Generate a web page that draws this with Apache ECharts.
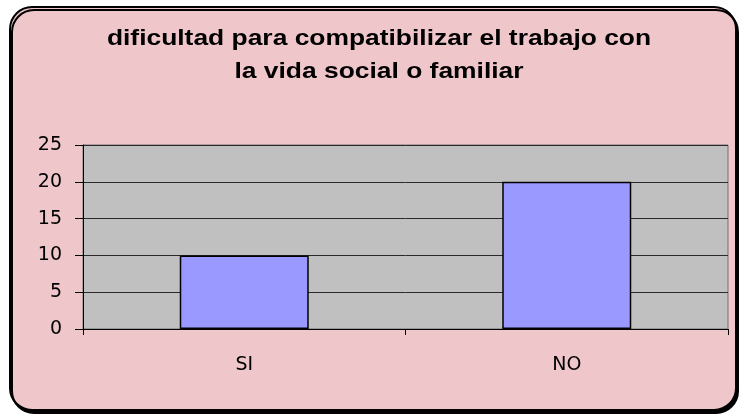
<!DOCTYPE html>
<html>
<head>
<meta charset="utf-8">
<style>
  html, body { margin: 0; padding: 0; background: #ffffff; }
  #chart { width: 740px; height: 414px; }
</style>
<script src="https://cdn.jsdelivr.net/npm/echarts@6/dist/echarts.min.js"></script>
</head>
<body>
<div id="chart"></div>
<script>
// Survey answers: difficulty balancing work with social / family life
const categories = ['SI', 'NO'];
const counts = [10, 20];
const yTicks = { min: 0, max: 25, interval: 5 };
const titleLines = ['dificultad para compatibilizar el trabajo con', 'la vida social o familiar'];

const labelFont = '"DejaVu Sans", "Liberation Sans", sans-serif';

const chart = echarts.init(document.getElementById('chart'), null, { renderer: 'canvas' });

chart.setOption({
  backgroundColor: '#ffffff',
  animation: false,
  graphic: [
    {
      // rounded card behind the chart, with a hard drop shadow
      type: 'rect',
      z: -10,
      shape: { x: 10, y: 7, width: 726, height: 403, r: 22 },
      style: {
        fill: '#efc6ca',
        stroke: '#000000',
        lineWidth: 2,
        shadowColor: '#000000',
        shadowOffsetX: 2,
        shadowOffsetY: 3,
        shadowBlur: 0
      }
    },
    {
      // wide bold two-line heading
      type: 'text',
      z: 10,
      x: 379,
      y: 22,
      scaleX: 1.2,
      style: {
        text: titleLines.join('\n'),
        align: 'center',
        verticalAlign: 'top',
        fontFamily: '"Liberation Sans", Arial, sans-serif',
        fontWeight: 'bold',
        fontSize: 22,
        lineHeight: 33,
        fill: '#000000'
      }
    }
  ],
  grid: {
    left: 83,
    top: 145,
    right: 12,
    bottom: 85,
    show: true,
    backgroundColor: '#c0c0c0',
    borderColor: '#707070',
    borderWidth: 1
  },
  xAxis: {
    type: 'category',
    data: categories,
    axisLine: { show: true, lineStyle: { color: '#000000', width: 1 } },
    axisTick: { show: true, alignWithLabel: false, length: 6, lineStyle: { color: '#000000' } },
    axisLabel: {
      margin: 27,
      color: '#000000',
      fontFamily: labelFont,
      fontSize: 19
    },
    splitLine: { show: false }
  },
  yAxis: {
    type: 'value',
    min: yTicks.min,
    max: yTicks.max,
    interval: yTicks.interval,
    axisLine: { show: true, lineStyle: { color: '#000000', width: 1 } },
    axisTick: { show: true, length: 8, lineStyle: { color: '#000000' } },
    axisLabel: {
      margin: 21,
      color: '#000000',
      fontFamily: labelFont,
      fontSize: 19
    },
    splitLine: { show: true, lineStyle: { color: '#2a2a2a', width: 1 } }
  },
  series: [
    {
      type: 'bar',
      data: counts,
      barWidth: '40%',
      itemStyle: {
        color: '#9999ff',
        borderColor: '#000000',
        borderWidth: 1.5
      }
    }
  ]
});
</script>
</body>
</html>
